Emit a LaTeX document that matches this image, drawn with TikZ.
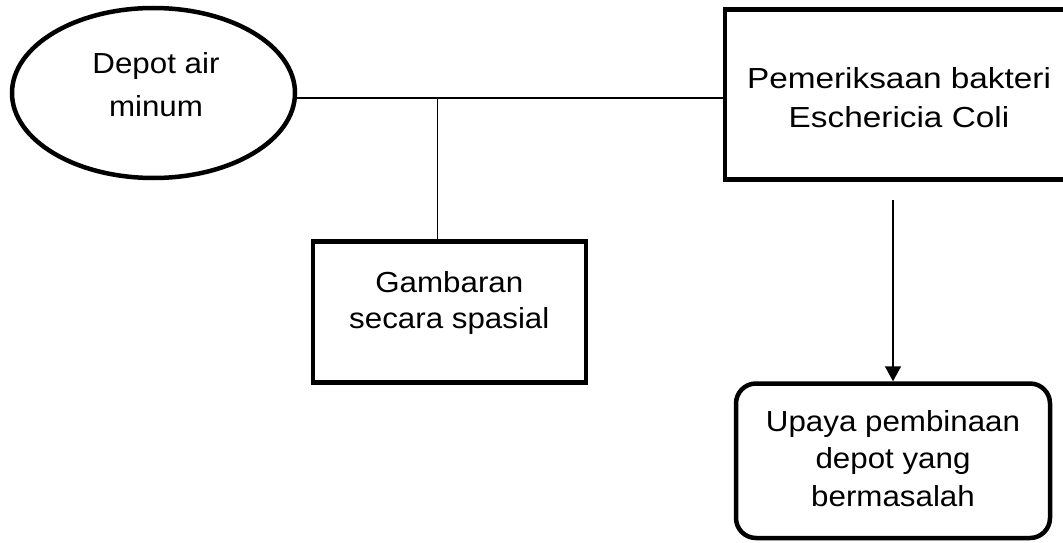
\documentclass[tikz,border=0pt]{standalone}
\usepackage{fontspec}
\setmainfont{Liberation Sans}[FakeStretch=1.08]
\usetikzlibrary{positioning, shapes.geometric, arrows.meta}

\begin{document}
\begin{tikzpicture}[x=1pt, y=-1pt,
        thick line/.style={draw, line width=4.5pt},
        box/.style={thick line, rectangle, inner sep=0pt},
        txt/.style={align=center, inner sep=0pt, font=\fontsize{29}{38}\selectfont},
        link/.style={line width=1.6pt},
        arrow/.style={link, -{Triangle[length=15pt, width=16pt]}}]
        \useasboundingbox (0,0) rectangle (1063,543);
        \fill[white] (0,0) rectangle (1063,543);
        \clip (0,0) rectangle (1063,543);

        \node[thick line, ellipse, inner sep=0pt, minimum width=283pt, minimum height=170pt] (dep) at (153.5,93) {};
        \node[box, minimum width=341pt, minimum height=170pt]                     (pem) at (895.5,94.5) {};
        \node[box, minimum width=273pt, minimum height=141pt]                     (gam) at (449.5,312) {};
        \node[box, rounded corners=20pt, minimum width=314pt, minimum height=154.5pt] (upa) at (893,460.75) {};

        \node[txt, font=\fontsize{29}{43}\selectfont] (dep text) at (156,84.7)    {Depot air\\minum};
        \node[txt, font=\fontsize{29}{38.4}\selectfont\addfontfeature{FakeStretch=1.15}] (pem text) at (899,97.5) {Pemeriksaan bakteri\\Eschericia Coli};
        \node[txt, font=\fontsize{29}{36}\selectfont] (gam text) at (449.3,302.7) {Gambaran\\secara spasial};
        \node[txt, font=\fontsize{29}{37.5}\selectfont] (upa text) at (893,458.2) {Upaya pembinaan\\depot yang\\bermasalah};

        \coordinate (junction)    at (437.5,98);
        \coordinate (arrow start) at (893,200);

        \draw[link]  (dep.east |- junction) -- (junction -| pem.west);
        \draw[link]  (junction) -- (junction |- gam.north);
        \draw[arrow] (arrow start) -- (upa);
\end{tikzpicture}
\end{document}
